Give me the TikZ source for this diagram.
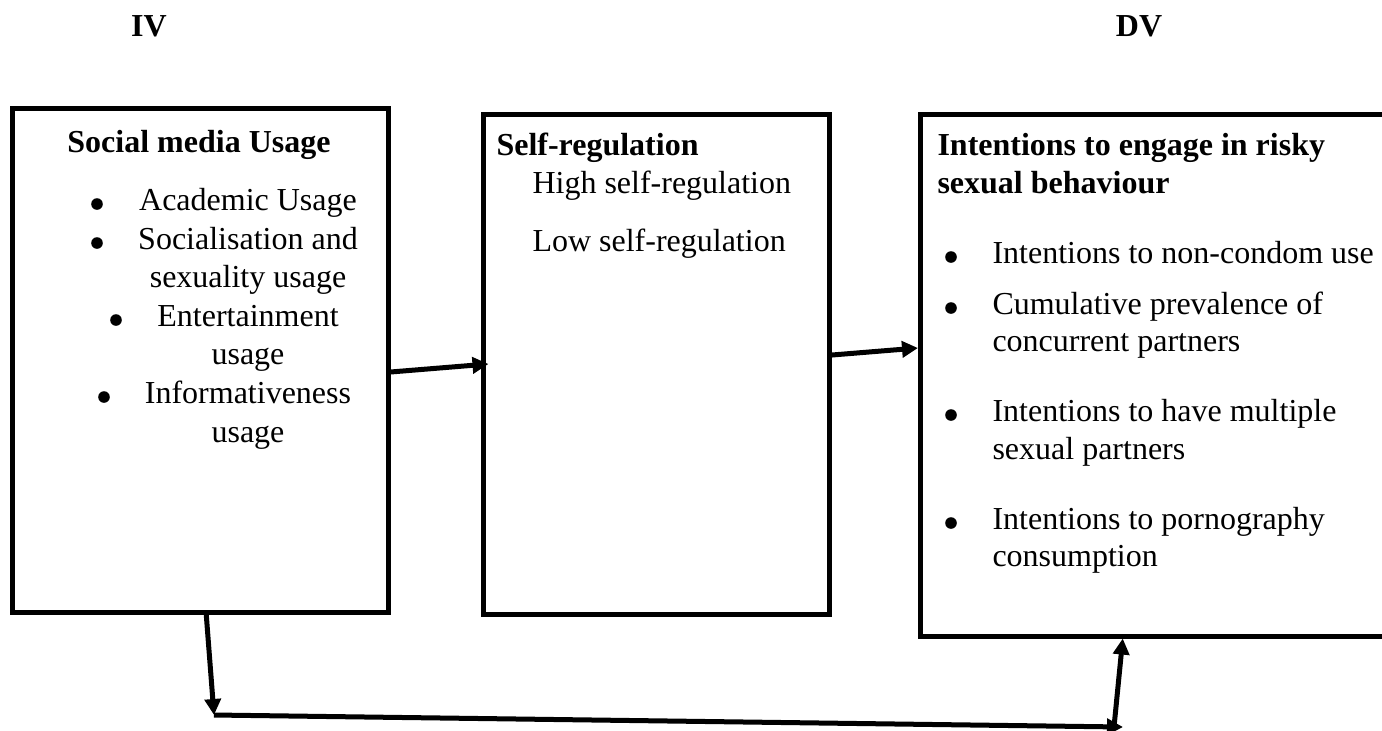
\documentclass[tikz,border=0pt]{standalone}
\usepackage{fontspec}
\setmainfont{Liberation Serif}
\usetikzlibrary{arrows.meta}
\tikzstyle{model}=[x=0.5pt, y=-0.5pt, line width=2.5pt, font=\fontsize{16pt}{20pt}\selectfont, >={Triangle[length=8pt,width=8pt]}]
\tikzstyle{block}=[draw, rectangle, inner sep=0pt]
\tikzstyle{txt}=[inner sep=0pt, anchor=base]
\tikzstyle{head}=[txt, font=\fontsize{16pt}{20pt}\selectfont\bfseries]
\tikzstyle{left}=[anchor=base west]
\tikzstyle{dot}=[circle, fill, inner sep=0pt, minimum size=5.8pt]

\begin{document}
\begin{tikzpicture}[model]
  \useasboundingbox (0,0) rectangle (1382,730);
  % variable labels
  \node[head] (iv) at (149,36) {IV};
  \node[head] (dv) at (1139,36) {DV};
  % boxes
  \node[block, minimum width=187.75pt, minimum height=252pt] (smu) at (200.25,360) {};
  \node[block, minimum width=173.25pt, minimum height=250pt] (sr) at (656.25,364) {};
  \node[block, minimum width=232.25pt, minimum height=261pt] (isb) at (1152.75,375) {};
  % social media usage
  \node[head] (smuT) at (199,152) {Social media Usage};
  \node[txt] (smu1) at (248,210) {Academic Usage};
  \node[txt] (smu2) at (248,249) {Socialisation and};
  \node[txt] (smu3) at (248,287) {sexuality usage};
  \node[txt] (smu4) at (248,326) {Entertainment};
  \node[txt] (smu5) at (248,364) {usage};
  \node[txt] (smu6) at (248,403) {Informativeness};
  \node[txt] (smu7) at (248,442) {usage};
  \node[dot] (d1) at (97,204) {};
  \node[dot] (d2) at (97,243) {};
  \node[dot] (d3) at (116,320) {};
  \node[dot] (d4) at (104,397) {};
  % self-regulation
  \node[head, left] (srT) at (494,155) {Self-regulation};
  \node[txt, left] (sr1) at (530,193) {High self-regulation};
  \node[txt, left] (sr2) at (530,251) {Low self-regulation};
  % risky sexual behaviour
  \node[head, left] (isbT) at (935,155) {Intentions to engage in risky};
  \node[head, left] (isbT2) at (935,193) {sexual behaviour};
  \node[txt, left] (isb1) at (990,263) {Intentions to non-condom use};
  \node[txt, left] (isb2) at (990,314) {Cumulative prevalence of};
  \node[txt, left] (isb3) at (990,351) {concurrent partners};
  \node[txt, left] (isb4) at (990,421) {Intentions to have multiple};
  \node[txt, left] (isb5) at (990,459) {sexual partners};
  \node[txt, left] (isb6) at (990,529) {Intentions to pornography};
  \node[txt, left] (isb7) at (990,566) {consumption};
  \node[dot] (e1) at (951,257) {};
  \node[dot] (e2) at (951,308) {};
  \node[dot] (e3) at (951,415) {};
  \node[dot] (e4) at (951,523) {};
  % links
  \coordinate (bl) at (214,715);
  \coordinate (br) at (1123,727);
  \draw[->] ([yshift=-6pt]smu.east) -- ([xshift=4pt]sr.west);
  \draw[->] ([yshift=4.5pt]sr.east) -- ([yshift=13.5pt]isb.west);
  \draw[->] ([xshift=3pt]smu.south) -- (bl);
  \draw[->] (bl) -- (br);
  \draw[->] ([xshift=-4.5pt]br) -- ([xshift=-15pt]isb.south);
\end{tikzpicture}
\end{document}
